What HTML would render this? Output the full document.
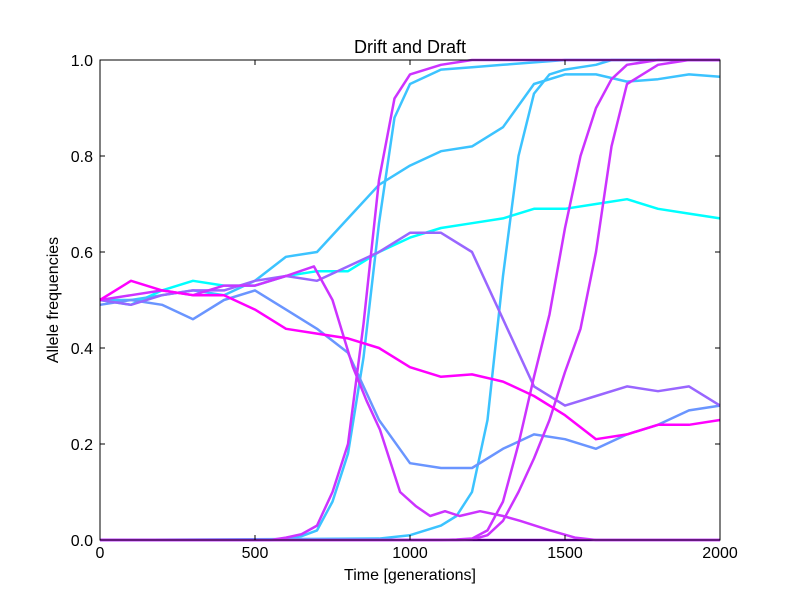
<!DOCTYPE html>
<html><head><meta charset="utf-8"><style>
body{margin:0;background:#fff;}
svg text{font-family:"Liberation Sans","DejaVu Sans",sans-serif;fill:#000;}
</style></head><body>
<svg id="chart" width="800" height="600" xmlns="http://www.w3.org/2000/svg">
<rect width="800" height="600" fill="#fff"/>
<g id="lines"></g>
<rect x="100" y="60" width="620" height="480" fill="none" stroke="#000" stroke-width="1"/>
<g id="axes"></g>
<text x="410" y="53" text-anchor="middle" font-size="18">Drift and Draft</text>
<text x="410" y="580" text-anchor="middle" font-size="16">Time [generations]</text>
<text x="58" y="300" text-anchor="middle" font-size="16" transform="rotate(-90 58 300)">Allele frequencies</text>
</svg>
<script>
const xTicks=[0,500,1000,1500,2000];
const yTicks=[0.0,0.2,0.4,0.6,0.8,1.0];
const gens=[0,100,200,300,400,500,600,700,800,900,1000,1100,1200,1300,1400,1500,1600,1700,1800,1900,2000];
const cyanDrift=[0.50,0.49,0.52,0.54,0.53,0.53,0.55,0.56,0.56,0.60,0.63,0.65,0.66,0.67,0.69,0.69,0.70,0.71,0.69,0.68,0.67];
const blueDrift=[0.50,0.50,0.51,0.52,0.51,0.54,0.59,0.60,0.67,0.74,0.78,0.81,0.82,0.86,0.95,0.97,0.97,0.955,0.96,0.97,0.965];
const cornflowerDrift=[0.49,0.50,0.49,0.46,0.50,0.52,0.48,0.44,0.39,0.25,0.16,0.15,0.15,0.19,0.22,0.21,0.19,0.22,0.24,0.27,0.28];
const purpleDrift=[0.50,0.49,0.51,0.52,0.52,0.54,0.55,0.54,0.57,0.60,0.64,0.64,0.60,0.46,0.32,0.28,0.30,0.32,0.31,0.32,0.28];
const magentaDrift=[0.50,0.54,0.52,0.51,0.51,0.48,0.44,0.43,0.42,0.40,0.36,0.34,0.345,0.33,0.30,0.26,0.21,0.22,0.24,0.24,0.25];
const lostLine=[0,0,0,0,0,0,0,0,0,0,0,0,0,0,0,0,0,0,0,0,0];
const violetDriftGens=[0,100,200,300,400,500,600,690,750,816,860,903,968,1020,1065,1113,1160,1226,1300,1355,1452,1532,1600,2000];
const violetDrift=[0.50,0.51,0.52,0.51,0.53,0.53,0.55,0.57,0.50,0.36,0.29,0.23,0.10,0.07,0.05,0.06,0.05,0.06,0.05,0.04,0.02,0.005,0,0];
const sweepGensEarly=[0,550,600,650,700,750,800,850,900,950,1000,1100,1200,1300,1400,1500,2000];
const sweepVioletA=[0,0,0.005,0.012,0.03,0.10,0.20,0.45,0.75,0.92,0.97,0.99,1.0,1.0,1.0,1.0,1.0];
const sweepBlueA=[0,0,0.002,0.008,0.02,0.08,0.18,0.38,0.66,0.88,0.95,0.98,0.985,0.99,0.995,1.0,1.0];
const sweepGensLate=[0,900,1000,1100,1150,1200,1250,1300,1350,1400,1450,1500,1550,1600,1650,1700,1800,1900,2000];
const sweepBlueB=[0,0.003,0.01,0.03,0.05,0.10,0.25,0.55,0.80,0.93,0.97,0.98,0.985,0.99,1.0,1.0,1.0,1.0,1.0];
const sweepVioletB=[0,0,0,0,0.001,0.003,0.02,0.08,0.20,0.34,0.47,0.65,0.80,0.90,0.96,0.99,1.0,1.0,1.0];
const sweepVioletC=[0,0,0,0,0,0.001,0.01,0.04,0.10,0.17,0.25,0.35,0.44,0.60,0.82,0.95,0.99,1.0,1.0];
const seriesList=[
 ['lost-allele',gens,lostLine,'#9900ee'],
 ['cyan-drift',gens,cyanDrift,'#00ffff'],
 ['blue-drift',gens,blueDrift,'#3cc3ff'],
 ['blue-sweep-early',sweepGensEarly,sweepBlueA,'#3cc3ff'],
 ['blue-sweep-late',sweepGensLate,sweepBlueB,'#3cc3ff'],
 ['cornflower-drift',gens,cornflowerDrift,'#6a95ff'],
 ['purple-drift',gens,purpleDrift,'#9966ff'],
 ['violet-drift',violetDriftGens,violetDrift,'#cc33ff'],
 ['violet-sweep-early',sweepGensEarly,sweepVioletA,'#cc33ff'],
 ['violet-sweep-mid',sweepGensLate,sweepVioletB,'#cc33ff'],
 ['violet-sweep-late',sweepGensLate,sweepVioletC,'#cc33ff'],
 ['magenta-drift',gens,magentaDrift,'#ff00ff']
];
const NS='http://www.w3.org/2000/svg';
const X=g=>100+g/2000*620;
const Y=v=>540-v*480;
const lines=document.getElementById('lines');
seriesList.forEach(s=>{
 const p=document.createElementNS(NS,'polyline');
 p.setAttribute('points',s[1].map((g,i)=>X(g)+','+Y(s[2][i])).join(' '));
 p.setAttribute('fill','none');p.setAttribute('stroke',s[3]);
 p.setAttribute('stroke-width','2.5');p.setAttribute('stroke-linejoin','round');
 
 
 lines.appendChild(p);
});
const axes=document.getElementById('axes');
function add(tag,attrs,txt){const e=document.createElementNS(NS,tag);for(const k in attrs)e.setAttribute(k,attrs[k]);if(txt!==undefined)e.textContent=txt;axes.appendChild(e);return e;}
xTicks.forEach(t=>{
 const x=X(t);
 const a=add('line',{x1:x,x2:x,y1:540,y2:535,stroke:'#000'});
 
 
 const b=add('line',{x1:x,x2:x,y1:60,y2:65,stroke:'#000'});
 
 
 const l=add('text',{x:x,y:558,'text-anchor':'middle','font-size':'16'},String(t));
 
 
});
yTicks.forEach(t=>{
 const y=Y(t);
 const a=add('line',{x1:100,x2:105,y1:y,y2:y,stroke:'#000'});
 
 
 const b=add('line',{x1:715,x2:720,y1:y,y2:y,stroke:'#000'});
 
 
 const l=add('text',{x:93,y:y+6,'text-anchor':'end','font-size':'16'},t.toFixed(1));
 
 
});
</script>
</body></html>
